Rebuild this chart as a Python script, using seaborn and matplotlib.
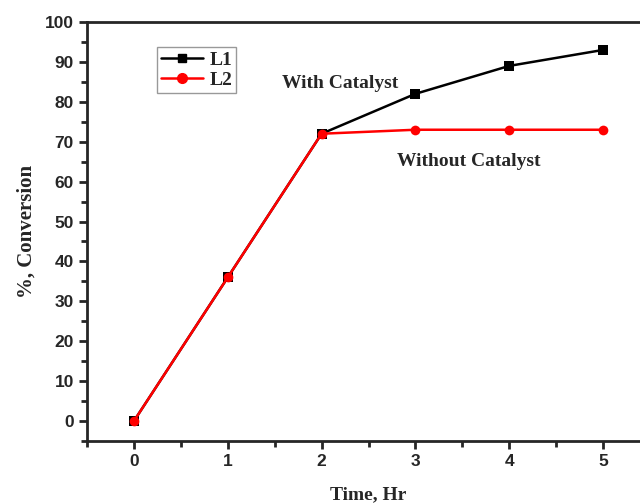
import matplotlib
matplotlib.use("Agg")
import matplotlib.pyplot as plt
import seaborn as sns
import pandas as pd
from matplotlib.ticker import MultipleLocator
from matplotlib.lines import Line2D

time_hr = [0, 1, 2, 3, 4, 5]
l1_values = [0, 36, 72, 82, 89, 93]
l2_values = [0, 36, 72, 73, 73, 73]
series_names = ["L1", "L2"]
x_ticks = [0, 1, 2, 3, 4, 5]
y_ticks = [0, 10, 20, 30, 40, 50, 60, 70, 80, 90, 100]

df = pd.DataFrame({
    "Time": time_hr * 2,
    "Conversion": l1_values + l2_values,
    "Series": [series_names[0]] * len(time_hr) + [series_names[1]] * len(time_hr),
})

sns.set_style("ticks")
fig = plt.figure(figsize=(6.4, 5.04), dpi=100)
ax = fig.add_axes([87 / 640, 1 - 441 / 504, (650 - 87) / 640, (441 - 22) / 504])

sns.lineplot(data=df, x="Time", y="Conversion", hue="Series", style="Series",
             palette={"L1": "black", "L2": "red"}, markers={"L1": "s", "L2": "o"},
             dashes=False, markersize=7, linewidth=1.8, markeredgewidth=0,
             ax=ax, legend=False)

ax.set_xlim(-0.5, 5.5)
ax.set_ylim(-5, 100)
ax.set_xticks(x_ticks)
ax.set_yticks(y_ticks)
ax.xaxis.set_minor_locator(MultipleLocator(0.5))
ax.yaxis.set_minor_locator(MultipleLocator(5))
ax.tick_params(which="major", length=6, width=2, direction="out")
ax.tick_params(which="minor", length=4, width=2, direction="out")
for lbl in ax.get_xticklabels() + ax.get_yticklabels():
    lbl.set_fontfamily("Liberation Sans")
    lbl.set_fontweight("bold")
    lbl.set_fontsize(12.5)
for s in ax.spines.values():
    s.set_linewidth(2)
    s.set_visible(True)

ax.set_xlabel("Time, Hr", fontfamily="Liberation Serif", fontweight="bold", fontsize=14, labelpad=12)
ax.set_ylabel("%, Conversion", fontfamily="Liberation Serif", fontweight="bold", fontsize=15, labelpad=6)

ax.text(2.2, 84.5, "With Catalyst", fontfamily="Liberation Serif", fontweight="bold", fontsize=14,
        ha="center", va="center")
ax.text(3.57, 65, "Without Catalyst", fontfamily="Liberation Serif", fontweight="bold", fontsize=14,
        ha="center", va="center")

handles = [Line2D([], [], color="black", marker="s", markersize=6, linewidth=1.8),
           Line2D([], [], color="red", marker="o", markersize=7, linewidth=1.8)]
leg = ax.legend(handles, series_names, loc="upper left", bbox_to_anchor=(0.124, 0.94),
                prop={"family": "Liberation Serif", "weight": "bold", "size": 14},
                frameon=True, fancybox=False, edgecolor="gray", handlelength=2.2,
                handletextpad=0.3, borderpad=0.2, labelspacing=0.15, borderaxespad=0)
leg.get_frame().set_linewidth(1)

fig.savefig("out.png", dpi=100)
